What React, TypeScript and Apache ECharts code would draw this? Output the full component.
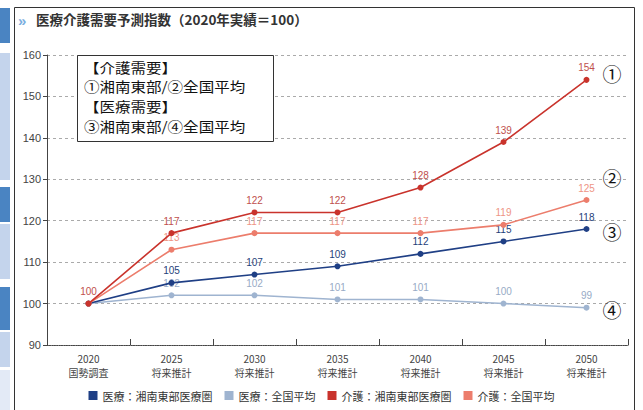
import React, { useEffect, useRef } from "react";
import * as echarts from "echarts";

const categories = ["2020\n国勢調査", "2025\n将来推計", "2030\n将来推計", "2035\n将来推計", "2040\n将来推計", "2045\n将来推計", "2050\n将来推計"];
const iryoShonan = [100, 105, 107, 109, 112, 115, 118];
const iryoZenkoku = [100, 102, 102, 101, 101, 100, 99];
const kaigoShonan = [100, 117, 122, 122, 128, 139, 154];
const kaigoZenkoku = [100, 113, 117, 117, 117, 119, 125];
const seriesNames = ["医療：湘南東部医療圏", "医療：全国平均", "介護：湘南東部医療圏", "介護：全国平均"];
const boxLines = ["【介護需要】", "①湘南東部/②全国平均", "【医療需要】", "③湘南東部/④全国平均"];
const circled = [
  { t: "①", v: 155.5 },
  { t: "②", v: 130.5 },
  { t: "③", v: 117.5 },
  { t: "④", v: 98.5 },
];

const FONT = "'Liberation Sans Narrow', 'Liberation Sans', 'Noto Sans CJK JP', sans-serif";
const JP = "'Noto Sans CJK JP', sans-serif";

export default function App() {
  const ref = useRef<HTMLDivElement>(null);
  useEffect(() => {
    document.body.style.margin = "0";
    const chart = echarts.init(ref.current!, null, { renderer: "svg" });
    const mk = (name: string, data: number[], line: string, lab: string, z: number, firstLabel: boolean) => ({
      name,
      type: "line",
      data: data.map((v, i) => (i === 0 && !firstLabel ? { value: v, label: { show: false } } : v)),
      z,
      symbol: "circle",
      symbolSize: 6,
      itemStyle: { color: line },
      lineStyle: { color: line, width: 1.6 },
      label: { show: true, position: "top", distance: 4, color: lab, fontSize: 10, fontFamily: FONT },
    });
    const yPix = (v: number) => 345 - ((v - 90) / 70) * 290;
    chart.setOption({
      animation: false,
      backgroundColor: "#fff",
      grid: { left: 47, right: 15, top: 55, bottom: 65 },
      legend: {
        bottom: 4,
        left: "center",
        itemWidth: 9,
        itemHeight: 9,
        itemGap: 12,
        icon: "rect",
        textStyle: { fontSize: 11, color: "#333", fontFamily: JP },
        data: seriesNames,
      },
      xAxis: {
        type: "category",
        data: categories,
        boundaryGap: true,
        axisLine: { lineStyle: { color: "#444", type: "dotted", width: 1.2 } },
        axisTick: { show: true, inside: true, length: 6, lineStyle: { color: "#444" } },
        axisLabel: { color: "#444", fontSize: 10, lineHeight: 14, fontFamily: JP, margin: 6 },
      },
      yAxis: {
        type: "value",
        min: 90,
        max: 160,
        interval: 10,
        axisLine: { show: true, lineStyle: { color: "#444" } },
        axisTick: { show: true, length: 4, lineStyle: { color: "#444" } },
        axisLabel: { color: "#444", fontSize: 11, fontFamily: FONT, margin: 6 },
        splitLine: { lineStyle: { color: "#aaa", type: [3, 3] } },
      },
      series: [
        mk(seriesNames[0], iryoShonan, "#1f3f85", "#1f3f7a", 4, false),
        mk(seriesNames[1], iryoZenkoku, "#9fb4d0", "#98abc6", 3, false),
        mk(seriesNames[2], kaigoShonan, "#c9332c", "#c0504d", 6, true),
        mk(seriesNames[3], kaigoZenkoku, "#ec7d6c", "#ee9585", 5, false),
      ],
      graphic: [
        { type: "rect", shape: { x: 0, y: 8, width: 10, height: 35 }, style: { fill: "#4a84c2" } },
        { type: "rect", shape: { x: 0, y: 53, width: 10, height: 127 }, style: { fill: "#c4d4ec" } },
        { type: "rect", shape: { x: 0, y: 187, width: 10, height: 35 }, style: { fill: "#4a84c2" } },
        { type: "rect", shape: { x: 0, y: 224, width: 10, height: 55 }, style: { fill: "#c4d4ec" } },
        { type: "rect", shape: { x: 0, y: 287, width: 10, height: 43 }, style: { fill: "#4a84c2" } },
        { type: "rect", shape: { x: 0, y: 332, width: 10, height: 35 }, style: { fill: "#c4d4ec" } },
        { type: "rect", shape: { x: 0, y: 370, width: 10, height: 40 }, style: { fill: "#e3eaf6" } },
        { type: "rect", shape: { x: 14.5, y: 7.5, width: 620, height: 410 }, style: { fill: "none", stroke: "#333", lineWidth: 1 } },
        { type: "text", x: 18, y: 13, style: { text: "»", fontSize: 15, fontWeight: "bold", fill: "#7aaee0", fontFamily: FONT } },
        { type: "text", x: 36, y: 12, style: { text: "医療介護需要予測指数（2020年実績＝100）", fontSize: 13.5, fontWeight: "bold", fill: "#333", fontFamily: JP } },
        { type: "rect", shape: { x: 77.5, y: 55.5, width: 196, height: 86 }, style: { fill: "#fff", stroke: "#333", lineWidth: 1 }, z: 10 },
        ...boxLines.map((t, i) => ({
          type: "text",
          x: 84,
          y: 60 + i * 19.6,
          scaleX: 1.15,
          z: 11,
          style: { text: t, fontSize: 13.5, fill: "#111", fontFamily: JP },
        })),
        ...circled.map((c) => ({
          type: "text",
          x: 612,
          y: yPix(c.v),
          z: 11,
          style: { text: c.t, fontSize: 19, fill: "#111", fontFamily: JP, align: "center", verticalAlign: "middle" },
        })),
      ],
    });
    return () => chart.dispose();
  }, []);
  return <div ref={ref} style={{ width: 643, height: 410 }} />;
}
